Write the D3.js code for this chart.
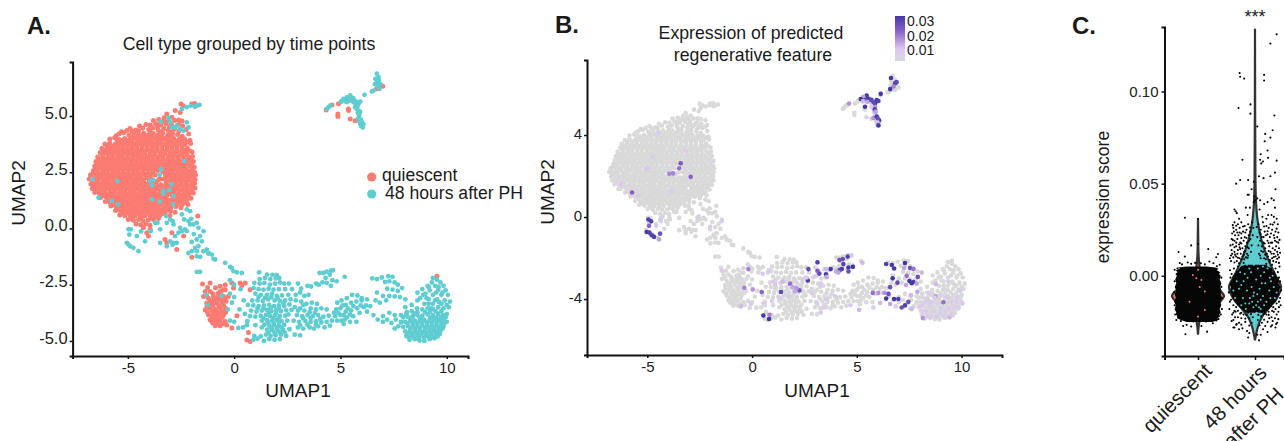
<html>
<head>
<meta charset="utf-8">
<script src="https://d3js.org/d3.v7.min.js"></script>
<style>
body { margin: 0; background: white; }
text { font-family: "Liberation Sans", Arial, sans-serif; fill: #1a1a1a; }
.axis path, .axis line { stroke: #111; }
</style>
</head>
<body>
<svg id="svg1" width="1284" height="441"></svg>
<script>
var cellsQuiescent = [
[-2.0,5.53],[-1.85,5.55],[-2.5,5.53],[-2.4,5.46],[-2.77,5.24],[-3.17,5.09],[-2.93,4.94],[-2.54,5.16],[-3.3,4.75],[-3.6,4.62],[-2.6,4.82],
[-4.15,4.62],[-3.95,4.6],[-3.7,4.66],[-3.45,4.6],[-3.2,4.64],[-2.95,4.62],[-2.62,4.62],[-4.45,4.55],[-3.8,4.8],[-3.55,4.84],[-3.3,4.92],[-3.1,4.78],[-2.8,4.8],[-2.45,4.78],[-3.6,4.5],[-3.05,4.52],[-2.42,4.55],[-4.62,4.38],[-4.8,4.32],[-5.05,4.35],[-5.3,4.3],[-5.55,4.12],[-4.9,4.44],[-4.5,4.34],
[-4.3,4.46],[-4.02,4.4],[-3.83,4.47],[-3.58,4.38],[-3.31,4.44],[-3.1,4.36],[-2.82,4.41],[-2.6,4.33],[-2.25,4.4],
[-5.42,4.2],[-5.2,4.26],[-4.95,4.16],[-4.72,4.24],[-4.5,4.19],[-4.26,4.23],[-4.03,4.16],[-3.8,4.22],[-3.57,4.17],[-3.36,4.24],[-3.12,4.16],[-2.9,4.21],[-2.66,4.18],[-2.44,4.1],[-2.14,4.2],
[-5.85,3.98],[-5.62,4.03],[-5.4,3.96],[-5.15,4.0],[-4.92,3.95],[-4.7,4.02],[-4.48,3.97],[-4.22,4.0],[-4.0,3.95],[-3.75,4.01],[-3.54,3.96],[-3.28,4.0],[-3.06,3.94],[-2.84,4.0],[-2.6,3.96],[-2.33,3.98],[-2.08,3.92],
[-6.08,3.76],[-5.85,3.8],[-5.6,3.74],[-5.38,3.79],[-5.16,3.76],[-4.9,3.8],[-4.68,3.73],[-4.44,3.78],[-4.2,3.75],[-3.98,3.8],[-3.74,3.74],[-3.5,3.78],[-3.26,3.73],[-3.04,3.79],[-2.8,3.76],[-2.56,3.8],[-2.32,3.74],[-2.05,3.78],
[-6.22,3.57],[-5.98,3.6],[-5.76,3.54],[-5.5,3.6],[-5.28,3.55],[-5.06,3.58],[-4.82,3.53],[-4.58,3.59],[-4.34,3.56],[-4.1,3.6],[-3.86,3.54],[-3.64,3.58],[-3.4,3.53],[-3.16,3.6],[-2.92,3.55],[-2.68,3.58],[-2.44,3.52],[-2.2,3.58],[-1.98,3.4],
[-6.3,3.38],[-6.06,3.42],[-5.84,3.35],[-5.6,3.4],[-5.36,3.36],[-5.14,3.4],[-4.9,3.34],[-4.66,3.39],[-4.42,3.36],[-4.2,3.41],[-3.95,3.35],[-3.72,3.38],[-3.48,3.33],[-3.26,3.4],[-3.0,3.35],[-2.78,3.38],[-2.54,3.32],[-2.28,3.38],
[-6.42,3.18],[-6.18,3.22],[-5.94,3.16],[-5.72,3.2],[-5.48,3.14],[-5.26,3.2],[-5.02,3.16],[-4.78,3.2],[-4.54,3.14],[-4.32,3.18],[-4.08,3.15],[-3.84,3.2],[-3.6,3.14],[-3.36,3.18],[-3.12,3.13],[-2.9,3.19],[-2.66,3.16],[-2.42,3.2],[-2.14,3.14],[-1.96,3.2],
[-6.5,2.98],[-6.26,3.02],[-6.04,2.96],[-5.8,3.0],[-5.56,2.95],[-5.34,3.0],[-5.1,2.94],[-4.86,3.0],[-4.62,2.96],[-4.4,3.0],[-4.16,2.94],[-3.92,2.98],[-3.68,2.94],[-3.46,3.0],[-3.2,2.95],[-2.98,2.99],[-2.74,2.94],[-2.5,2.98],[-2.2,2.94],[-1.92,2.98],
[-6.56,2.78],[-6.34,2.82],[-6.1,2.76],[-5.88,2.8],[-5.64,2.75],[-5.4,2.8],[-5.18,2.76],[-4.94,2.8],[-4.7,2.74],[-4.48,2.78],[-4.24,2.75],[-4.0,2.8],[-3.76,2.74],[-3.54,2.78],[-3.3,2.73],[-3.06,2.8],[-2.84,2.75],[-2.6,2.79],[-2.36,2.74],[-2.1,2.78],[-1.88,2.72],
[-6.62,2.58],[-6.4,2.62],[-6.16,2.56],[-5.94,2.6],[-5.7,2.54],[-5.46,2.6],[-5.24,2.56],[-5.0,2.6],[-4.76,2.54],[-4.54,2.58],[-4.3,2.55],[-4.06,2.6],[-3.82,2.54],[-3.6,2.58],[-3.36,2.53],[-3.12,2.6],[-2.9,2.55],[-2.66,2.59],[-2.42,2.54],[-2.18,2.58],[-1.86,2.5],
[-6.76,2.38],[-6.52,2.42],[-6.3,2.36],[-6.06,2.4],[-5.82,2.35],[-5.6,2.4],[-5.36,2.36],[-5.12,2.4],[-4.9,2.34],[-4.66,2.39],[-4.42,2.36],[-4.18,2.4],[-3.96,2.34],[-3.72,2.38],[-3.48,2.2],[-3.24,2.39],[-3.0,2.34],[-2.78,2.38],[-2.54,2.33],[-2.3,2.38],[-2.06,2.34],[-1.82,2.38],
[-6.82,2.2],[-6.6,2.16],[-6.36,2.22],[-6.12,2.17],[-5.9,2.2],[-5.66,2.15],[-5.42,2.2],[-5.2,2.16],[-4.96,2.2],[-4.72,2.14],[-4.5,2.18],[-4.26,2.15],[-4.02,2.2],[-3.78,2.02],[-3.56,2.16],[-3.3,2.2],[-3.08,2.14],[-2.84,2.19],[-2.6,2.15],[-2.36,2.2],[-2.12,2.14],[-1.84,2.18],
[-6.74,1.98],[-6.5,2.02],[-6.28,1.96],[-6.04,2.0],[-5.8,1.95],[-5.58,2.0],[-5.34,1.94],[-5.1,2.0],[-4.88,1.96],[-4.64,2.0],[-4.4,1.94],[-4.18,1.98],[-3.94,1.95],[-3.7,1.84],[-3.46,1.94],[-3.22,1.98],[-3.0,1.92],[-2.76,1.98],[-2.52,1.94],[-2.28,1.98],[-2.04,1.93],[-1.86,2.0],
[-6.68,1.78],[-6.44,1.82],[-6.2,1.76],[-5.98,1.8],[-5.74,1.75],[-5.5,1.8],[-5.28,1.76],[-5.04,1.8],[-4.8,1.74],[-4.58,1.78],[-4.34,1.75],[-4.1,1.8],[-3.88,1.74],[-3.64,1.78],[-3.4,1.73],[-3.18,1.8],[-2.94,1.75],[-2.7,1.78],[-2.46,1.73],[-2.22,1.78],[-1.98,1.73],[-1.84,1.8],
[-6.56,1.6],[-6.34,1.55],[-6.1,1.6],[-5.86,1.54],[-5.64,1.58],[-5.4,1.55],[-5.16,1.6],[-4.94,1.54],[-4.7,1.58],[-4.46,1.55],[-4.24,1.6],[-4.0,1.54],[-3.76,1.58],[-3.54,1.53],[-3.3,1.4],[-3.06,1.56],[-2.82,1.6],[-2.6,1.54],[-2.36,1.58],[-2.12,1.53],[-1.92,1.58],
[-6.28,1.38],[-6.04,1.42],[-5.82,1.36],[-5.58,1.4],[-5.34,1.34],[-5.12,1.4],[-4.88,1.36],[-4.64,1.4],[-4.42,1.34],[-4.18,1.38],[-3.94,1.35],[-3.7,1.4],[-3.48,1.34],[-3.24,1.38],[-3.0,1.24],[-2.78,1.38],[-2.54,1.34],[-2.3,1.38],[-2.03,1.34],
[-6.06,1.2],[-5.84,1.15],[-5.6,1.2],[-5.36,1.14],[-5.14,1.18],[-4.9,1.15],[-4.66,1.2],[-4.44,1.14],[-4.2,1.18],[-3.96,1.15],[-3.72,1.2],[-3.5,1.02],[-3.26,1.18],[-3.02,1.02],[-2.8,1.18],[-2.56,1.14],[-2.3,1.18],[-2.17,1.06],
[-5.8,1.0],[-5.56,0.96],[-5.34,1.0],[-5.1,0.94],[-4.86,0.98],[-4.62,0.95],[-4.4,1.0],[-4.16,0.94],[-3.92,0.98],[-3.68,0.95],[-3.46,0.8],[-3.22,0.96],[-2.98,0.92],[-2.74,0.98],[-2.5,0.92],
[-5.58,0.8],[-5.34,0.76],[-5.12,0.8],[-4.88,0.74],[-4.64,0.78],[-4.4,0.75],[-4.18,0.8],[-3.94,0.74],[-3.7,0.78],[-3.24,0.74],[-3.0,0.78],[-2.78,0.72],
[-5.38,0.6],[-5.14,0.56],[-4.9,0.6],[-4.68,0.54],[-4.44,0.58],[-4.2,0.55],[-3.96,0.6],[-3.74,0.54],[-3.5,0.58],[-3.26,0.68],[-3.02,0.58],
[-4.98,0.4],[-4.74,0.36],[-4.5,0.4],[-4.28,0.34],[-4.04,0.38],[-3.8,0.4],[-3.56,0.44],
[-4.62,0.2],[-4.4,0.16],[-4.16,0.2],[-3.96,0.14],
[-4.11,-0.19],[-4.03,-0.34],[-4.27,0.03],[-2.93,-0.19],[-2.38,-0.34],[-3.25,-0.49],[-3.17,-0.64],[-2.7,-0.94],[-1.99,-1.28],[-1.71,0.55],[-3.95,-0.04],
[4.33,5.27],[4.6,5.49],[4.91,5.54],[5.38,5.31],[5.38,5.24],[4.88,5.09],[4.88,4.98],[5.46,4.87],[5.69,4.79],[6.99,6.32],[6.71,6.21],
[-1.49,-2.47],[-1.13,-2.43],[-0.66,-2.57],[-0.42,-2.5],[-0.11,-2.43],[0.28,-2.43],[0.52,-2.43],[0.36,-2.54],[-0.03,-2.65],[-0.42,-2.72],[-0.66,-2.8],[-1.13,-2.8],[-1.36,-2.8],[-0.88,-2.64],
[-1.44,-3.02],[-1.21,-3.1],[-0.97,-3.02],[-0.74,-3.02],[-0.5,-3.02],[-0.27,-3.02],[-1.29,-3.32],[-1.05,-3.32],[-0.82,-3.32],[-0.58,-3.32],[-0.38,-3.24],
[-1.36,-3.62],[-1.13,-3.54],[-0.89,-3.59],[-0.66,-3.54],[-0.42,-3.54],[-1.21,-3.84],[-0.97,-3.79],[-0.74,-3.84],[-0.5,-3.84],[-1.13,-4.06],[-0.89,-4.03],[-0.66,-4.09],[-0.42,-4.14],
[-0.89,-4.33],[-0.66,-4.33],[-0.35,-4.29],[-0.11,-4.43],[0.13,-3.88],[0.75,-2.72],[0.67,-4.63],[0.6,-4.96],[0.75,-5.03],[9.54,-2.13],
[-1.0,-3.2],[-0.8,-3.7],[-1.05,-3.93],[-1.2,-3.45],[-0.6,-3.18],[-0.85,-4.18],[-0.55,-3.68],[-1.0,-4.2],
// second pass through the thick part of the blob
[-3.95,4.3],[-3.45,4.3],[-2.97,4.28],[-4.84,4.08],[-4.37,4.1],[-3.9,4.07],[-3.42,4.09],[-2.95,4.08],[-2.5,4.02],[-5.5,3.88],[-5.03,3.88],[-4.56,3.86],[-4.1,3.88],[-3.63,3.87],[-3.16,3.87],[-2.7,3.86],[-2.2,3.86],
[-5.95,3.68],[-5.48,3.68],[-5.02,3.67],[-4.56,3.67],[-4.08,3.68],[-3.62,3.66],[-3.14,3.67],[-2.68,3.68],[-2.44,3.66],[-6.12,3.48],[-5.65,3.48],[-5.2,3.46],[-4.74,3.47],[-4.3,3.47],[-3.84,3.46],[-3.38,3.46],[-2.9,3.46],[-2.44,3.44],[-2.1,3.46],
[-6.18,3.28],[-5.72,3.3],[-5.25,3.27],[-4.8,3.28],[-4.42,3.27],[-3.96,3.27],[-3.5,3.26],[-3.04,3.28],[-2.62,3.25],[-2.2,3.26],[-6.36,3.08],[-5.88,3.08],[-5.42,3.06],[-4.96,3.08],[-4.5,3.07],[-4.04,3.08],[-3.6,3.06],[-3.1,3.06],[-2.62,3.08],[-2.34,3.05],[-2.04,3.06],
[-6.42,2.88],[-5.98,2.88],[-5.52,2.87],[-5.06,2.88],[-4.58,2.87],[-4.12,2.88],[-3.64,2.86],[-3.18,2.87],[-2.86,2.86],[-2.42,2.85],[-2.0,2.86],[-6.5,2.68],[-6.04,2.68],[-5.58,2.66],[-5.1,2.68],[-4.64,2.67],[-4.18,2.68],[-3.72,2.66],[-3.24,2.67],[-2.78,2.67],[-2.3,2.66],[-1.98,2.62],
[-6.64,2.48],[-6.2,2.48],[-5.72,2.47],[-5.24,2.48],[-4.78,2.46],[-4.3,2.47],[-3.84,2.46],[-3.26,2.48],[-2.88,2.46],[-2.42,2.46],[-2.0,2.46],[-6.7,2.28],[-6.24,2.28],[-5.76,2.29],[-5.3,2.28],[-4.84,2.27],[-4.38,2.28],[-3.92,2.27],[-3.2,2.28],[-2.72,2.28],[-2.24,2.28],[-1.94,2.26],
[-6.66,2.08],[-6.16,2.08],[-5.7,2.06],[-5.26,2.08],[-4.78,2.06],[-4.32,2.08],[-3.66,2.08],[-3.18,2.07],[-2.72,2.07],[-2.24,2.06],[-1.95,2.08],[-6.6,1.88],[-6.12,1.88],[-5.66,1.86],[-5.2,1.88],[-4.74,1.87],[-4.28,1.87],[-3.82,1.86],[-3.34,1.87],[-2.86,1.86],[-2.4,1.86],[-1.94,1.86],
[-6.5,1.68],[-6.08,1.67],[-5.6,1.68],[-5.14,1.67],[-4.66,1.68],[-4.2,1.67],[-3.74,1.68],[-3.26,1.66],[-2.8,1.68],[-2.34,1.66],[-2.02,1.66],[-6.22,1.48],[-5.74,1.46],[-5.28,1.47],[-4.8,1.46],[-4.34,1.47],[-3.86,1.46],[-3.4,1.45],[-2.92,1.46],[-2.46,1.46],[-2.15,1.46],
[-5.94,1.28],[-5.48,1.28],[-5.02,1.27],[-4.54,1.28],[-4.08,1.27],[-3.6,1.27],[-3.12,1.28],[-2.68,1.27],[-2.22,1.26],[-5.7,1.08],[-5.24,1.07],[-4.76,1.08],[-4.3,1.07],[-3.84,1.08],[-3.38,1.1],[-2.9,1.08],[-2.44,1.06],
[-5.46,0.88],[-5.0,0.87],[-4.52,0.88],[-4.06,0.87],[-3.6,0.88],[-3.1,0.86],[-5.24,0.68],[-4.78,0.67],[-4.3,0.68],[-3.84,0.67],[-3.38,0.66],[-4.86,0.48],[-4.38,0.47],[-3.92,0.48],
[-1.25,-2.62],[-1.0,-2.9],[-0.75,-2.88],[-0.5,-2.72],[-1.3,-2.98],[-0.62,-2.92],[-1.15,-3.2],[-0.9,-3.12],[-0.7,-3.18],[-0.45,-3.12],[-1.28,-3.48],[-1.0,-3.44],[-0.72,-3.45],[-0.5,-3.42],[-1.25,-3.72],[-1.02,-3.68],[-0.84,-3.88],[-0.62,-3.76],[-0.4,-3.72],[-1.05,-4.14],[-0.78,-3.98],[-0.56,-3.96],[-0.77,-4.24],[-0.52,-4.24],
// third pass, leaves only small holes
[-4.6,4.06],[-4.14,4.1],[-3.66,4.07],[-3.18,4.06],[-5.27,3.9],[-4.8,3.86],[-4.33,3.89],[-3.87,3.86],[-3.4,3.9],[-2.93,3.87],[-2.45,3.88],[-5.72,3.66],[-5.25,3.7],[-4.79,3.66],[-4.32,3.68],[-3.85,3.64],[-3.38,3.69],[-2.91,3.66],
[-5.88,3.5],[-5.42,3.46],[-4.97,3.49],[-4.52,3.46],[-4.07,3.5],[-3.61,3.47],[-3.14,3.49],[-2.67,3.46],[-2.27,3.48],[-5.95,3.3],[-5.48,3.26],[-5.02,3.3],[-4.6,3.27],[-4.19,3.3],[-3.73,3.27],[-3.27,3.3],[-2.83,3.26],[-2.41,3.28],
[-6.12,3.1],[-5.65,3.06],[-5.19,3.09],[-4.73,3.06],[-4.27,3.1],[-3.82,3.07],[-3.35,3.08],[-2.86,3.06],[-6.2,2.9],[-5.75,2.86],[-5.29,2.89],[-4.82,2.86],[-4.35,2.89],[-3.88,2.87],[-3.41,2.9],[-3.02,2.86],[-2.64,2.88],[-2.21,2.86],
[-6.27,2.7],[-5.81,2.66],[-5.34,2.69],[-4.87,2.66],[-4.41,2.7],[-3.95,2.67],[-3.48,2.69],[-3.01,2.66],[-2.54,2.68],[-6.42,2.5],[-5.96,2.46],[-5.48,2.49],[-5.01,2.46],[-4.54,2.5],[-4.07,2.47],[-3.07,2.46],[-2.65,2.49],[-2.21,2.46],
[-6.47,2.3],[-6.0,2.26],[-5.53,2.29],[-5.07,2.26],[-4.61,2.3],[-4.15,2.27],[-2.96,2.28],[-2.48,2.26],[-6.41,2.1],[-5.93,2.06],[-5.48,2.09],[-5.02,2.06],[-4.55,2.1],[-4.0,2.07],[-2.95,2.09],[-2.48,2.06],
[-6.36,1.9],[-5.89,1.86],[-5.43,1.89],[-4.97,1.86],[-4.51,1.9],[-4.05,1.87],[-3.58,1.88],[-3.1,1.86],[-2.63,1.89],[-2.17,1.86],[-6.29,1.7],[-5.84,1.66],[-5.37,1.69],[-4.9,1.66],[-4.43,1.7],[-3.97,1.67],[-3.5,1.69],[-3.03,1.66],[-2.57,1.69],[-2.18,1.66],
[-5.98,1.5],[-5.51,1.46],[-5.04,1.49],[-4.57,1.46],[-4.1,1.5],[-3.63,1.47],[-3.16,1.49],[-2.69,1.46],[-2.3,1.48],[-5.71,1.3],[-5.25,1.26],[-4.78,1.29],[-4.31,1.26],[-3.84,1.3],[-3.36,1.27],[-2.9,1.29],[-2.45,1.26],
[-5.47,1.1],[-5.0,1.06],[-4.53,1.09],[-4.07,1.06],[-3.61,1.08],[-3.14,1.1],[-2.67,1.07],[-5.23,0.9],[-4.76,0.86],[-4.29,0.89],[-3.83,0.86],[-3.35,0.88],[-5.01,0.7],[-4.54,0.66],[-4.07,0.69],[-3.61,0.66]
];
var cellsAfterPH = [
[-6.67,2.19],[-5.49,2.1],[-6.38,1.37],[-5.76,1.22],[-5.45,1.07],[-3.95,2.11],[-3.8,2.15],[-3.86,1.92],[-3.44,2.63],[-3.51,2.38],[-2.94,1.96],[-3.33,1.67],[-3.05,1.71],[-3.33,1.55],[-2.86,1.44],[-3.87,1.29],[-3.51,1.19],[-2.86,1.07],[-2.34,3.0],
[-2.46,5.31],[-2.23,5.39],[-2.04,5.46],[-1.84,5.41],[-1.76,5.46],[-1.63,5.49],
[-3.44,4.75],[-3.09,4.9],[-3.0,4.72],[-2.93,4.49],[-2.7,4.57],[-2.54,4.42],[-2.23,4.72],[-2.15,4.49],[-2.38,4.34],[-2.77,4.49],
[-4.97,-0.04],[-4.86,-0.04],[-4.93,-0.27],[-5.05,-0.64],[-4.97,-0.71],[-4.89,-0.79],[-4.74,-0.86],[-4.5,-1.01],[-4.58,-0.34],[-4.38,-0.13],[-4.19,-0.57],[-3.92,-0.12],[-3.72,0.25],[-3.61,0.25],[-3.48,-0.04],[-3.2,0.55],[-3.17,0.25],[-3.01,0.4],[-2.89,0.33],[-2.85,0.18],[-3.48,-0.64],[-3.17,-0.79],[-3.01,-0.57],[-2.85,-0.64],[-2.7,-0.64],[-2.78,-0.34],[-2.62,-0.19],[-2.46,-0.12],[-2.31,-0.04],[-2.23,-0.12],[-2.54,0.03],[-2.35,0.4],[-2.15,0.33],[-2.02,0.43],[-2.07,0.18],[-1.91,0.18],[-1.76,0.25],[-1.68,0.03],[-1.44,-0.12],[-1.6,-0.34],[-1.76,-0.49],[-1.52,-0.57],[-1.68,-0.79],[-1.84,-0.86],[-1.99,-1.01],[-2.15,-1.09],[-1.29,-0.94],[-1.21,-1.09],[-1.05,-1.16],[-0.89,-1.38],[-2.23,0.85],[-2.07,0.77],[-2.46,0.63],[-1.76,-1.24],[-1.6,-1.26],[-2.9,-0.72],[-1.9,-0.25],[-2.0,-0.6],
[6.71,6.88],[6.79,6.73],[6.64,6.65],[6.71,6.5],[6.87,6.43],[6.79,6.28],[6.84,6.21],[6.56,6.13],[6.48,6.09],[6.13,5.94],[5.46,5.91],[5.3,5.83],[5.15,5.76],[5.07,5.68],[5.22,5.68],[5.54,5.68],[5.38,5.76],[5.62,5.61],[5.93,5.64],[5.85,5.54],[5.69,5.39],[5.85,5.24],[5.77,5.31],[5.88,5.01],[5.85,4.79],[6.01,4.72],[5.93,4.64],[6.05,4.49],[6.01,4.57],[4.52,5.46],[4.44,5.39],[4.36,5.31],
[6.72,6.6],[6.8,6.58],[6.74,6.36],[6.62,6.42],[5.35,5.66],[5.45,5.74],[5.6,5.79],[5.7,5.66],[5.8,5.6],[5.72,5.5],[5.8,5.42],[5.82,5.14],[5.92,5.18],[5.84,4.9],[5.96,4.84],[6.08,4.64],[5.97,4.55],[5.02,5.62],[5.48,5.8],[5.28,5.62],
[-0.42,-1.53],[-0.19,-1.71],[-0.11,-1.76],[-0.03,-1.9],[0.13,-1.95],[0.36,-1.98],[-1.76,-1.93],[-1.6,-1.93],[-0.97,-1.35],[-1.21,-1.12],[-1.44,-1.01],[-1.76,-1.01],
[-0.2,-2.3],[0.0,-2.5],[-0.6,-3.0],[-1.3,-2.95],[-0.2,-2.9],[-0.1,-3.3],[-1.25,-3.4],[-0.3,-3.6],[0.0,-3.05],[0.3,-2.7],[0.45,-3.2],[0.25,-3.6],[0.5,-3.8],[-0.2,-4.1],[0.0,-4.15],[0.2,-4.42],[0.42,-4.4],[0.6,-4.3],
[1.18,-1.95],[1.55,-2.05],[1.8,-2.06],[2.0,-2.08],[1.2,-2.25],[1.45,-2.2],[1.7,-2.25],[1.95,-2.22],[2.12,-2.2],[0.95,-2.42],[1.2,-2.45],[1.42,-2.42],[1.68,-2.5],[1.92,-2.45],[2.15,-2.4],[2.35,-2.45],[2.58,-2.45],[0.92,-2.65],[1.15,-2.7],[1.38,-2.72],[1.62,-2.68],[1.85,-2.72],[2.1,-2.7],[2.4,-2.7],[1.0,-2.9],[1.25,-2.95],[1.55,-2.95],[1.78,-2.9],[2.0,-3.0],[2.25,-2.98],[2.55,-2.95],[2.72,-2.7],
[1.1,-3.2],[1.35,-3.22],[1.6,-3.15],[1.9,-3.2],[2.15,-3.22],[2.4,-3.2],[2.65,-3.15],[0.65,-3.4],[0.9,-3.42],[1.15,-3.45],[1.4,-3.42],[1.65,-3.4],[1.88,-3.45],[2.1,-3.42],[2.35,-3.45],[2.6,-3.38],[0.8,-3.65],[1.05,-3.7],[1.3,-3.65],[1.55,-3.62],[1.75,-3.68],[1.98,-3.62],[2.2,-3.68],[2.45,-3.64],[2.7,-3.62],
[0.75,-3.9],[1.0,-3.92],[1.25,-3.88],[1.5,-3.84],[1.7,-3.9],[1.92,-3.85],[2.15,-3.9],[2.4,-3.88],[0.62,-4.12],[1.3,-4.1],[1.55,-4.08],[1.78,-4.1],[2.0,-4.06],[2.22,-4.12],[2.5,-4.1],[1.0,-4.3],[1.42,-4.28],[1.65,-4.32],[1.88,-4.3],[2.1,-4.32],[2.35,-4.28],[1.55,-4.5],[1.8,-4.52],[2.05,-4.55],[2.3,-4.5],[2.6,-4.48],[0.95,-4.78],[1.25,-4.8],[1.5,-4.72],[1.72,-4.78],[1.95,-4.75],[2.2,-4.72],[2.45,-4.78],[2.85,-4.72],[3.1,-4.75],[1.1,-4.9],[1.4,-5.0],[1.65,-4.92],[1.9,-4.95],[2.15,-4.92],[0.9,-4.95],
[1.72,-3.52],[1.98,-3.76],[2.1,-3.55],[1.85,-3.98],[2.1,-3.98],[1.62,-3.78],[1.38,-3.98],[1.6,-4.2],[1.85,-4.2],[2.1,-4.18],[1.3,-4.4],[1.75,-4.42],[2.0,-4.42],[2.22,-4.4],[1.62,-4.62],[1.9,-4.64],[2.15,-4.62],[2.38,-4.62],[1.1,-3.55],[1.38,-3.55],[2.32,-3.32],[2.55,-3.82],
[3.0,-2.45],[3.15,-2.68],[3.45,-2.55],[3.62,-2.58],[3.85,-2.45],[3.98,-2.5],[2.9,-2.95],[3.1,-2.85],[3.3,-3.0],[3.5,-2.95],[2.9,-3.2],[3.15,-3.25],[3.4,-3.35],[3.65,-3.3],[3.9,-3.35],[2.85,-3.5],[3.1,-3.55],[3.3,-3.65],[3.6,-3.55],[3.85,-3.6],[4.1,-3.55],[4.35,-3.6],[2.95,-3.85],[3.2,-3.9],[3.45,-3.85],[3.7,-3.9],[3.95,-3.85],[4.2,-3.92],[4.45,-3.88],[4.7,-3.75],[2.8,-4.1],[3.05,-4.15],[3.35,-4.12],[3.6,-4.15],[3.85,-4.12],[4.1,-4.18],[4.35,-4.15],[4.6,-4.1],[3.0,-4.4],[3.25,-4.45],[3.55,-4.4],[3.75,-4.45],[3.95,-4.35],[4.25,-4.4],[4.5,-4.32],
[4.02,-1.98],[4.2,-1.98],[4.35,-1.92],[4.55,-1.88],[4.65,-1.85],[4.3,-2.2],[4.62,-2.3],[4.15,-2.4],[4.35,-2.42],[4.55,-2.55],[4.5,-2.05],[4.82,-2.35],[5.2,-2.15],
[4.85,-3.3],[5.05,-3.2],[5.3,-3.1],[5.55,-2.95],[5.8,-2.98],[6.0,-3.2],[4.8,-3.6],[5.0,-3.55],[5.25,-3.4],[5.5,-3.3],[5.75,-3.25],[6.0,-3.1],[6.25,-3.15],[4.75,-3.9],[5.0,-3.85],[5.25,-3.7],[5.5,-3.65],[5.78,-3.55],[6.1,-3.5],[6.4,-3.45],[6.65,-3.2],[4.85,-4.1],[5.05,-4.1],[5.3,-3.95],[5.6,-3.9],[5.9,-3.75],[6.25,-3.7],[6.55,-3.85],[5.15,-4.25],[5.45,-4.15],[5.2,-4.05],[5.75,-4.15],
[6.5,-2.22],[6.72,-2.25],[6.95,-2.18],[7.25,-2.12],[7.45,-2.15],[7.1,-2.38],[7.3,-2.35],[7.55,-2.4],[7.7,-2.5],[7.9,-2.65],[7.2,-2.68],[7.45,-2.72],[7.7,-2.78],[6.72,-2.85],[7.0,-3.0],[7.3,-3.0],[7.55,-3.02],[7.8,-3.05],[8.05,-3.15],[6.85,-3.3],[7.15,-3.2],
[7.0,-3.9],[7.3,-3.75],[7.55,-3.85],[6.75,-4.05],[7.0,-4.15],[7.2,-4.05],[7.4,-4.2],[7.55,-4.45],[7.72,-4.35],[7.6,-4.05],[7.85,-4.15],[7.85,-3.85],
[8.12,-3.72],[8.35,-3.68],[8.6,-3.55],[8.85,-3.6],[9.1,-3.55],[9.35,-3.58],[9.6,-3.5],[9.85,-3.55],[10.1,-3.5],
[7.95,-3.95],[8.15,-3.92],[8.4,-3.9],[8.62,-3.85],[8.85,-3.88],[9.1,-3.82],[9.35,-3.85],[9.6,-3.8],[9.82,-3.85],[10.0,-3.8],
[7.85,-4.18],[8.05,-4.15],[8.28,-4.12],[8.5,-4.1],[8.72,-4.12],[8.95,-4.08],[9.18,-4.1],[9.4,-4.05],[9.62,-4.08],[9.85,-4.05],
[7.95,-4.38],[8.18,-4.35],[8.4,-4.32],[8.62,-4.35],[8.85,-4.3],[9.08,-4.33],[9.3,-4.28],[9.52,-4.3],[9.75,-4.28],[9.9,-4.2],
[8.05,-4.58],[8.28,-4.55],[8.5,-4.58],[8.72,-4.52],[8.95,-4.55],[9.18,-4.5],[9.4,-4.53],[9.62,-4.5],[9.8,-4.45],
[8.1,-4.78],[8.35,-4.75],[8.58,-4.78],[8.8,-4.72],[9.02,-4.75],[9.25,-4.72],[9.48,-4.72],[9.68,-4.68],
[8.25,-4.95],[8.5,-4.92],[8.72,-4.98],[8.95,-5.0],[9.2,-4.92],[9.42,-4.88],
[8.5,-3.78],[8.98,-3.72],[9.48,-3.68],[9.75,-3.68],[8.28,-4.0],[8.75,-3.98],[9.22,-3.96],[9.72,-3.95],[8.15,-4.25],[8.62,-4.22],[9.08,-4.2],[9.52,-4.18],[8.3,-4.45],[8.75,-4.42],[9.2,-4.42],[9.64,-4.4],[8.16,-4.66],[8.62,-4.67],[9.06,-4.64],[9.5,-4.62],[8.45,-4.85],[8.92,-4.85],[9.35,-4.82],[8.1,-3.82],[9.95,-3.95],[10.0,-4.15],
[8.38,-4.02],[8.86,-4.0],[9.32,-3.98],[9.5,-3.95],[8.4,-4.22],[8.85,-4.2],[9.3,-4.18],[9.74,-4.16],[8.52,-4.44],[8.98,-4.42],[9.42,-4.42],[9.85,-4.36],[8.4,-4.66],[8.85,-4.63],[9.28,-4.62],[9.7,-4.56],[8.22,-4.85],[8.68,-4.86],[9.14,-4.83],[9.58,-4.8],[8.62,-3.72],[9.22,-3.7],[8.72,-3.95],
[8.05,-3.5],[8.35,-3.4],[8.62,-3.2],[9.05,-3.1],[9.25,-3.55],[9.45,-3.2],[9.65,-3.28],[8.9,-2.95],[9.15,-2.6],[9.35,-2.2],[9.62,-2.6],[9.8,-2.85],[9.5,-2.85],[9.15,-3.35],
[9.54,-2.28],[9.3,-2.4],[9.7,-2.4],[9.1,-2.55],[9.45,-2.55],[9.85,-2.55],[8.85,-2.7],[9.2,-2.75],[9.6,-2.72],[9.95,-2.75],[8.62,-2.85],[9.0,-2.9],[9.35,-2.95],[9.75,-2.95],[10.05,-2.95],[8.75,-3.1],[9.15,-3.15],[9.55,-3.15],[9.9,-3.2],[10.15,-3.25],[8.95,-3.35],[9.35,-3.35],[9.75,-3.35],[10.0,-3.4],
[4.9,-3.75],[5.15,-3.85],[5.35,-3.55],[5.6,-3.45],[5.1,-3.42],[5.45,-3.82],[5.95,-3.42],[6.2,-3.42],[3.0,-3.65],[3.25,-3.4],[3.55,-3.72],[3.8,-3.75],[3.25,-4.0],[3.6,-3.98],[3.1,-4.3],[3.45,-4.28],[3.85,-4.28],[4.05,-4.02],[1.15,-3.05],[1.45,-3.08],[1.75,-3.05],[2.05,-3.1],[0.85,-3.2]
];
// purple cells, [umap1, umap2, expression]
var cellsExpression = [
[6.63,6.78,.03],[6.83,6.53,.028],[6.9,6.58,.026],[6.75,6.37,.016],[6.59,6.24,.03],[6.14,6.01,.03],[5.47,5.92,.03],[5.55,5.76,.03],[5.31,5.87,.012],[5.19,5.76,.03],[5.39,5.71,.028],[5.95,5.71,.03],[5.87,5.54,.03],[6.03,5.66,.028],[5.71,5.63,.008],[5.39,5.38,.03],[5.76,5.33,.008],[5.87,5.38,.014],[5.87,5.05,.008],[5.79,4.83,.014],[6.06,4.72,.03],[5.98,4.64,.009],[6.03,4.47,.03],[4.63,5.54,.014],
[5.62,5.72,.028],[5.5,5.62,.012],[5.8,5.6,.026],[5.86,5.24,.03],[5.95,4.9,.03],[6.0,4.82,.024],[5.3,5.66,.01],[5.9,5.14,.012],[5.7,5.72,.026],
[-3.41,2.62,.022],[-3.48,2.38,.018],[-3.95,2.11,.016],[-3.77,2.13,.016],[-2.93,1.96,.02],[-5.73,1.2,.02],[-3.83,1.25,.008],[-5.43,1.04,.008],[-6.25,1.58,.008],[-5.03,2.36,.008],[-4.47,4.11,.006],[-4.74,2.94,.006],[-3.17,3.23,.006],[-4.95,2.41,.006],[-1.85,2.74,.004],
[-4.95,-0.12,.028],[-4.82,-0.21,.028],[-4.92,-0.43,.02],[-5.03,-0.73,.03],[-4.9,-0.76,.028],[-4.79,-0.89,.028],[-4.68,-0.97,.028],[-4.39,-0.81,.024],[-4.44,-1.09,.012],[-4.58,-0.43,.008],[-4.34,-0.02,.006],[-4.36,-0.2,.006],[-2.0,-0.48,.006],[-1.45,-0.2,.006],[-2.61,-0.02,.005],
[3.12,-2.21,.028],[4.17,-2.1,.024],[4.33,-2.05,.024],[4.57,-1.93,.028],[4.76,-1.88,.008],[4.36,-2.29,.028],[4.6,-2.46,.03],[4.81,-2.43,.03],[4.28,-2.54,.03],[4.17,-2.59,.026],[4.01,-2.66,.012],[3.75,-2.54,.03],[3.53,-2.79,.03],[3.21,-2.76,.026],[3.12,-2.62,.022],[2.69,-2.54,.026],[2.66,-3.09,.028],[4.6,-2.66,.024],[4.12,-2.71,.012],[3.53,-2.54,.01],[3.56,-2.92,.012],[5.27,-2.23,.01],[-0.18,-2.54,.016],[-1.45,-2.62,.008],
[-0.37,-3.45,.016],[0.03,-3.53,.014],[0.46,-3.66,.02],[1.38,-3.66,.026],[2.26,-3.58,.022],[2.13,-3.48,.014],[1.81,-3.25,.018],[1.46,-3.15,.01],[0.54,-4.8,.03],[0.81,-4.97,.03],[0.83,-4.77,.016],[-0.53,-4.36,.01],[-0.06,-4.24,.008],[0.51,-2.77,.008],[1.1,-3.32,.008],[3.28,-4.65,.008],[3.09,-4.19,.006],[3.28,-3.25,.008],[3.4,-4.41,.008],[5.11,-4.52,.01],
[0.8,-2.6,.008],[1.0,-3.15,.007],[0.55,-4.2,.007],[0.95,-4.1,.006],[1.3,-3.95,.007],[1.95,-3.42,.012],[2.05,-3.62,.012],[2.4,-3.05,.006],[1.75,-3.85,.006],[2.6,-2.95,.007],[3.0,-2.9,.008],[2.85,-3.7,.006],[3.5,-4.0,.005],[4.0,-3.9,.006],[4.7,-4.3,.007],
[6.4,-2.29,.028],[6.67,-2.34,.03],[6.78,-2.51,.03],[7.3,-2.24,.03],[7.54,-2.49,.024],[7.26,-2.49,.012],[7.7,-2.54,.018],[8.1,-2.71,.01],[7.38,-2.87,.018],[7.91,-2.92,.024],[6.71,-2.99,.03],[6.94,-3.2,.026],[7.51,-3.12,.03],[7.7,-3.17,.028],[7.62,-3.23,.03],[7.86,-3.25,.012],[6.59,-3.42,.024],[7.35,-3.32,.012],
[5.76,-3.7,.018],[6.03,-3.7,.014],[6.32,-3.7,.014],[6.51,-3.75,.024],[6.4,-3.98,.03],[6.78,-4.0,.03],[6.98,-4.0,.028],[6.59,-4.24,.012],[6.11,-4.19,.01],[5.79,-4.41,.008],[6.86,-4.36,.008],[7.14,-4.41,.024],[7.3,-4.31,.028],[7.46,-4.14,.024],[7.62,-4.49,.01],[7.59,-3.81,.01],[7.89,-3.65,.012],[8.77,-3.28,.01],[8.77,-3.86,.012],[9.13,-4.16,.018],[8.15,-4.93,.014],[8.42,-4.85,.008],[9.42,-4.9,.01],[9.77,-3.94,.006],[10.04,-4.22,.008],[9.37,-3.15,.005],[8.34,-4.03,.008],[8.02,-4.36,.008],[8.66,-4.6,.006],[8.97,-4.69,.006],[9.61,-4.36,.006],[9.21,-4.6,.006],[8.89,-4.19,.006],[8.5,-4.36,.005],
[8.2,-4.2,.006],[8.55,-4.15,.007],[8.7,-3.95,.006],[8.95,-3.9,.005],[9.3,-3.9,.007],[9.5,-4.15,.006],[9.75,-4.15,.006],[9.4,-4.45,.007],[9.0,-4.45,.007],[8.3,-4.62,.007],[8.8,-4.85,.007],[9.15,-4.85,.006],[9.55,-4.72,.007],[8.1,-4.58,.006],[9.85,-4.45,.005],[8.55,-4.85,.006],[9.95,-3.6,.005],[8.45,-3.7,.006]
];

var colorStops = [0, 0.008, 0.02, 0.03];
var colorValues = ["#d9d9d9", "#dbc8f0", "#8b60c8", "#4338a8"];
var legendTicks = [0.01, 0.02, 0.03];

var groups = ["quiescent", "48 hours after PH"];
var groupColors = ["#fb7b72", "#5ecdd1"];
var ticksUmap1 = [-5, 0, 5, 10];
var ticksUmap2A = [-5, -2.5, 0, 2.5, 5];
var ticksUmap2B = [-4, 0, 4];
var ticksScore = [0, 0.05, 0.1];

// violin outlines, [score, relative width]
var violinQuiescent = [[.031,0],[.02,.01],[.012,.02],[.005,.06],[0,.13],[-.004,.4],[-.008,.85],[-.011,1],[-.014,.85],[-.018,.45],[-.022,.12],[-.026,.04],[-.032,0]];
var violinAfterPH = [[.134,0],[.1,.004],[.08,.008],[.06,.015],[.05,.02],[.04,.04],[.03,.1],[.02,.24],[.012,.42],[.006,.6],[0,.8],[-.006,1],[-.012,.85],[-.018,.5],[-.022,.28],[-.026,.15],[-.03,.07],[-.035,0]];
// where the jitter is so thick it reads as solid black, [score, left, right]
var cloudQuiescent = [[.005,-.2,.15],[.0045,-.36,.3],[.004,-.31,.36],[.003,-.39,.33],[.002,-.36,.39],[.001,-.4,.37],[0,-.37,.4],[-.002,-.4,.38],[-.004,-.38,.41],[-.006,-.41,.39],[-.008,-.38,.41],[-.01,-.41,.4],[-.012,-.39,.42],[-.014,-.42,.39],[-.016,-.39,.41],[-.018,-.41,.38],[-.02,-.38,.4],[-.021,-.39,.37],[-.022,-.36,.39],[-.023,-.37,.34],[-.024,-.3,.36],[-.025,-.2,.25]];
var cloudAfterPH = [[.006,-.18,.2],[.005,-.25,.22],[.004,-.27,.3],[.002,-.34,.31],[.001,-.33,.37],[0,-.39,.36],[-.002,-.4,.42],[-.004,-.44,.41],[-.006,-.42,.45],[-.008,-.44,.42],[-.01,-.41,.43],[-.012,-.4,.38],[-.014,-.35,.37],[-.016,-.31,.29],[-.018,-.23,.25],[-.02,-.15,.16]];
// single jitter points, [offset, score]
var jitterQuiescent = [[-.23,.0315],[0,.031],[-.12,.0165],[0,.0174],[.18,.0145],[-.34,.0129],[-.23,.0105],[.35,.0118],[.32,.0101],[.2,.0078],[-.41,.0033],[-.32,.0069],[.38,.006],[-.2,-.0266],[-.12,-.0275],[-.22,-.0317],[.16,-.0303],[.26,-.0257],[.36,-.0234],[-.35,-.0221],[-.26,-.0272],[.06,-.0272],
[-.36,.004],[-.28,.0062],[-.18,.0072],[-.12,.0065],[-.05,.007],[.05,.0068],[.12,.0062],[.27,.0068],[.33,.0052],[-.38,-.024],[-.3,-.0245],[-.2,-.024],[-.08,-.0248],[.03,-.0245],[.14,-.0248],[.25,-.0242],[.32,-.0242],[.42,-.012],[.41,-.006],[.42,-.018],[-.41,-.003],[-.42,-.009],[-.41,-.016],[-.4,-.021],[.41,-.001],[.4,-.021]];
var jitterAfterPH = [[.38,.131],[.27,.126],[-.27,.110],[-.26,.108],[-.19,.107],[.16,.109],[.16,.106],[-.29,.091],[-.08,.093],[-.08,.088],[.34,.087],[.04,.081],[.31,.079],[.18,.077],[.27,.075],[.17,.073],[.22,.068],[.1,.066],[.23,.064],[-.22,.063],[.09,.063],[.14,.062],[.11,.061],[.38,.0625],[.35,.056],[.27,.054],[.07,.054],[.15,.053],[-.26,.052],[-.12,.052],[-.33,.05],[-.02,.051],[-.06,.047],[.36,.047],[-.13,.044],[-.11,.044],[-.01,.043],[0,.041],[.04,.042],[.09,.041],[-.02,.04],[.22,.04],[.29,.042],[.33,.041],[.16,.039],[-.36,.036],[-.34,.035],[-.32,.034],[-.16,.037],[-.09,.037],[.08,.036],[.35,.037],[-.13,.033],[-.28,.031],[.13,.032],[.23,.033],[.29,.033],[.2,.031],[.33,.032],[.38,.031],
[-.36,.029],[-.3,.028],[-.24,.029],[-.18,.027],[-.12,.028],[-.05,.029],[.06,.028],[.14,.029],[.2,.027],[.27,.028],[.34,.029],[.4,.028],
[-.38,.026],[-.33,.025],[-.27,.026],[-.21,.024],[-.15,.025],[-.08,.024],[.1,.025],[.17,.024],[.24,.026],[.3,.025],[.36,.024],
[-.4,.023],[-.35,.022],[-.29,.022],[-.24,.023],[-.18,.021],[-.11,.022],[.12,.021],[.19,.022],[.26,.021],[.33,.022],[.39,.021],
[-.41,.02],[-.36,.019],[-.31,.02],[-.26,.018],[-.2,.019],[-.14,.018],[-.08,.02],[.09,.019],[.15,.018],[.22,.019],[.28,.018],[.35,.019],[.41,.018],
[-.39,.017],[-.33,.016],[-.28,.017],[-.22,.015],[-.17,.016],[-.11,.015],[.12,.016],[.18,.015],[.25,.016],[.31,.015],[.37,.016],[.42,.015],
[-.41,.014],[-.36,.013],[-.3,.014],[-.25,.012],[-.19,.013],[-.14,.012],[-.07,.013],[.07,.012],[.14,.013],[.21,.012],[.27,.013],[.33,.012],[.39,.013],
[-.42,.011],[-.38,.01],[-.33,.0105],[-.27,.0095],[-.22,.0105],[-.16,.01],[.16,.0095],[.23,.0105],[.3,.0095],[.36,.0105],[.42,.01],
[-.4,-.021],[-.3,-.0225],[-.2,-.021],[-.1,-.023],[.11,-.022],[.2,-.021],[.29,-.0225],[.38,-.021],
[-.38,-.024],[-.28,-.0255],[-.17,-.025],[-.1,-.027],[.12,-.0255],[.22,-.025],[.31,-.0245],[.39,-.0255],
[-.36,-.028],[-.33,-.0265],[-.22,-.0285],[-.14,-.03],[.14,-.029],[.28,-.0275],[.36,-.028],
[-.12,-.0335],[.07,-.035],[.04,-.032],[.42,-.017],[.44,-.012],[-.44,-.014],[-.43,-.005],[.44,-.003],
// second pass, the thicker upper and lower shoulders
[-.39,.0275],[-.33,.0272],[-.27,.0235],[-.21,.0268],[-.15,.0205],[-.09,.0262],[-.03,.026],[.03,.0265],[.1,.0225],[.16,.0268],[.22,.0242],[.31,.0278],[.38,.0256],
[-.37,.024],[-.31,.0235],[-.24,.0205],[-.17,.0235],[-.1,.019],[-.04,.022],[.04,.021],[.08,.0235],[.15,.021],[.22,.0225],[.28,.023],[.34,.0205],[.41,.0235],
[-.39,.0195],[-.33,.018],[-.27,.0155],[-.24,.0175],[-.17,.0135],[-.13,.0155],[-.06,.0165],[.06,.0165],[.11,.0135],[.17,.0175],[.24,.0178],[.3,.018],[.38,.0185],[.43,.0195],
[-.43,.0165],[-.36,.0155],[-.31,.012],[-.26,.0145],[-.2,.0115],[-.12,.011],[.09,.011],[.18,.0115],[.24,.0135],[.29,.012],[.35,.014],[.4,.0115],[.44,.0125],
[-.44,.0095],[-.4,.012],[-.35,.0115],[-.3,.0098],[-.24,.0088],[-.19,.009],[-.13,.0098],[.1,.0095],[.19,.009],[.26,.0085],[.33,.0102],[.39,.0092],
[-.38,-.02],[-.34,-.0195],[-.26,-.0205],[-.15,-.0212],[-.07,-.0208],[.06,-.0212],[.15,-.0208],[.24,-.0212],[.33,-.0195],[.41,-.0195],
[-.35,-.0225],[-.24,-.023],[-.17,-.0232],[-.04,-.0225],[.05,-.024],[.16,-.0238],[.25,-.023],[.35,-.023],[.41,-.0235],
[-.41,-.0245],[-.32,-.0262],[-.24,-.0265],[-.06,-.0255],[.08,-.0268],[.18,-.0272],[.3,-.0268],[.37,-.0262],[-.38,-.028],[-.28,-.029],[-.1,-.031],[.1,-.032],[.22,-.0305],
[.46,-.008],[-.46,-.009],[.45,-.016],[-.45,-.018],[.43,.005],[-.44,.003],[-.42,.008],[.42,.007],
// corners around the solid part
[.3,.006],[.36,.004],[.4,.002],[.33,.002],[.42,-.001],[.37,.0075],[-.3,.005],[-.37,.004],[-.41,.001],[-.34,.001],[-.43,-.001],[-.36,.0072],[.32,-.017],[.38,-.015],[.3,-.019],[.36,-.018],[.42,-.014],[-.33,-.017],[-.38,-.016],[-.3,-.019],[-.36,-.019],[-.42,-.013],
[.25,.004],[-.25,.004],[.2,.0065],[-.2,.007],[.26,.0075],[-.28,.0068],[.32,.008],[-.32,.008],[.24,-.0195],[-.24,-.02],[.12,-.0195],[-.12,-.02],[.18,-.02],[-.18,-.0185],[.28,-.0165],[-.28,-.016]];
// spots of the violin that show between the black points
var gapsQuiescent = [[0,.0033],[-.03,-.0013],[.06,-.0022],[.12,-.0085],[.12,-.0185],[0,-.0221],[-.09,.0005],[-.15,-.014],[.03,-.006]];
var gapsAfterPH = [[-.02,.006],[.05,.004],[-.07,.002],[.1,.0],[-.13,-.001],[.02,-.002],[.18,-.004],[-.2,-.003],[-.06,-.006],[.08,-.007],[-.14,-.008],[.25,-.008],[.14,-.011],[-.28,-.007],[.33,-.006],[-.03,-.011],[-.21,-.012],[.05,-.014],[.2,-.014],[-.1,-.015],[-.03,-.017],[.1,-.018],[-.16,-.018],[.03,-.02],[.35,-.012],[-.35,-.012],[.26,-.001],[-.26,.002],[.14,.005],[-.14,.006],
[.02,.008],[-.05,.0075],[.08,.0065],[-.1,.004],[.16,.002],[.22,.004],[-.18,.001],[-.24,-.005],[.28,-.003],[.12,-.004],[-.02,-.009],[.04,-.01],[-.09,-.012],[.1,-.013],[-.17,-.015],[.16,-.016],[-.05,-.014],[.02,-.016],[-.24,-.016],[.27,-.012],[.38,-.009],[-.32,-.003],[-.38,-.008],[.31,.0],[.07,-.017]];

var categories = ["quiescent", "48 hours"];
var svg = d3.select("#svg1");

function hyphen(f) {
	return function(d) { return f(d).replace("\u2212", "-"); };
}
function styleAxis(g) {
	g.select(".domain").attr("stroke-width", 2);
	g.selectAll(".tick line").attr("stroke-width", 1.5);
	g.selectAll(".tick text").attr("font-size", "15px").style("fill", "#222");
}
function drawAxes(x, y, xTicks, yTicks, xPos, yPos, yFormat, yShift, yFont) {
	svg.append("g").attr("class", "axis").attr("transform", "translate(0," + yPos + ")")
		.call(d3.axisBottom(x).tickValues(xTicks).tickSize(3).tickFormat(hyphen(d3.format("d"))))
		.call(styleAxis);
	svg.append("g").attr("class", "axis").attr("transform", "translate(" + xPos + ",0)")
		.call(d3.axisLeft(y).tickValues(yTicks).tickSize(3).tickPadding(2).tickFormat(hyphen(yFormat)))
		.call(styleAxis)
		.selectAll(".tick text").attr("y", yShift).attr("font-size", yFont + "px");
}
function label(x, y, str, size, opts) {
	opts = opts || {};
	return svg.append("text")
		.attr("transform", "translate(" + x + "," + y + ")" + (opts.rotate ? " rotate(" + opts.rotate + ")" : ""))
		.attr("text-anchor", opts.anchor || "middle")
		.attr("font-size", size + "px")
		.attr("font-weight", opts.bold ? "bold" : "normal")
		.text(str);
}

// ---- panel A
var xA = d3.scaleLinear().domain([-7.6, 11.0]).range([72.6, 468]);
var yA = d3.scaleLinear().domain([-5.67, 7.4]).range([356, 62]);
drawAxes(xA, yA, ticksUmap1, ticksUmap2A, 72.6, 356, d3.format(".1f"), -3, 16.5);

var gA = svg.append("g");
gA.selectAll(".q").data(cellsQuiescent).enter().append("circle").attr("class", "q")
	.attr("cx", function(d) { return xA(d[0]); })
	.attr("cy", function(d) { return yA(d[1]); })
	.attr("r", 2.5).style("fill", groupColors[0]);
gA.selectAll(".a").data(cellsAfterPH).enter().append("circle").attr("class", "a")
	.attr("cx", function(d) { return xA(d[0]); })
	.attr("cy", function(d) { return yA(d[1]); })
	.attr("r", 2.4).style("fill", groupColors[1]);

svg.append("circle").attr("cx", 371.7).attr("cy", 177).attr("r", 4.6).style("fill", groupColors[0]);
svg.append("circle").attr("cx", 371.7).attr("cy", 194).attr("r", 4.6).style("fill", groupColors[1]);
label(382, 181, groups[0], 17.6, {anchor: "start"});
label(385, 199, groups[1], 17.6, {anchor: "start"});

label(27, 34, "A.", 24, {anchor: "start", bold: true});
label(249, 50, "Cell type grouped by time points", 17.7);
label(298, 397, "UMAP1", 19);
label(25, 193, "UMAP2", 19, {rotate: -90});

// ---- panel B
var xB = d3.scaleLinear().domain([-7.88, 11.93]).range([587, 1002]);
var yB = d3.scaleLinear().domain([-6.73, 7.66]).range([355, 60]);
drawAxes(xB, yB, ticksUmap1, ticksUmap2B, 587, 355, d3.format("d"), -1, 15);

var colorScale = d3.scaleLinear().domain(colorStops).range(colorValues);
var gB = svg.append("g");
gB.selectAll(".g").data(cellsQuiescent.concat(cellsAfterPH)).enter().append("circle").attr("class", "g")
	.attr("cx", function(d) { return xB(d[0]); })
	.attr("cy", function(d) { return yB(d[1]); })
	.attr("r", 2.3).style("fill", colorValues[0]);
gB.selectAll(".e").data(cellsExpression).enter().append("circle").attr("class", "e")
	.attr("cx", function(d) { return xB(d[0]); })
	.attr("cy", function(d) { return yB(d[1]); })
	.attr("r", 2.3).style("fill", function(d) { return colorScale(d[2]); });

var grad = svg.append("defs").append("linearGradient").attr("id", "ramp")
	.attr("x1", 0).attr("y1", 1).attr("x2", 0).attr("y2", 0);
grad.selectAll("stop").data(colorStops).enter().append("stop")
	.attr("offset", function(d) { return d / 0.03; })
	.attr("stop-color", function(d) { return colorScale(d); });
var legendY = d3.scaleLinear().domain([0, 0.03]).range([61, 16]);
svg.append("rect").attr("x", 895).attr("y", legendY(0.03)).attr("width", 10)
	.attr("height", legendY(0) - legendY(0.03)).style("fill", "url(#ramp)");
legendTicks.forEach(function(t, i) {
	label(907, [55, 41, 26][i], d3.format(".2f")(t), 14, {anchor: "start"});
});

label(555, 33, "B.", 24, {anchor: "start", bold: true});
label(751, 39, "Expression of predicted", 17.7);
label(753, 61, "regenerative feature", 17.7);
label(817, 397, "UMAP1", 19);
label(554, 192, "UMAP2", 19, {rotate: -90});

// ---- panel C
var xC = d3.scalePoint().domain(categories).range([1198, 1255]);
var yC = d3.scaleLinear().domain([-0.0435, 0.135]).range([356, 27]);
var jit = d3.scaleLinear().domain([-1, 1]).range([-57, 57]);

svg.append("g").attr("class", "axis").attr("transform", "translate(1164.5,0)")
	.call(d3.axisLeft(yC).tickValues(ticksScore).tickSize(3).tickFormat(d3.format(".2f")))
	.call(styleAxis);
svg.append("g").attr("class", "axis").attr("transform", "translate(0,356)")
	.call(d3.axisBottom(d3.scaleLinear().domain([1164.5, 1284]).range([1164.5, 1284])).tickValues(xC.domain().map(xC)).tickSize(4).tickFormat(""))
	.call(styleAxis);

function violin(cat, profile, fill, cloud, points, gaps) {
	var cx = xC(cat);
	var area = d3.area()
		.y(function(d) { return yC(d[0]); })
		.x0(function(d) { return cx - 26 * d[1]; })
		.x1(function(d) { return cx + 26 * d[1]; })
		.curve(d3.curveCatmullRom);
	svg.append("path").datum(profile).attr("d", area)
		.style("fill", fill).style("stroke", "#333").style("stroke-width", 2.2);
	var areaCloud = d3.area()
		.y(function(d) { return yC(d[0]); })
		.x0(function(d) { return cx + jit(d[1]); })
		.x1(function(d) { return cx + jit(d[2]); });
	svg.append("path").datum(cloud).attr("d", areaCloud).style("fill", "#060606");
	svg.selectAll(".pt" + categories.indexOf(cat)).data(points).enter().append("circle")
		.attr("class", "pt" + categories.indexOf(cat))
		.attr("cx", function(d) { return cx + jit(d[0]); })
		.attr("cy", function(d) { return yC(d[1]); })
		.attr("r", 1.05).style("fill", "#000");
	svg.selectAll(".gap" + categories.indexOf(cat)).data(gaps).enter().append("circle")
		.attr("class", "gap" + categories.indexOf(cat))
		.attr("cx", function(d) { return cx + jit(d[0]); })
		.attr("cy", function(d) { return yC(d[1]); })
		.attr("r", 1).style("fill", fill);
}
violin("quiescent", violinQuiescent, groupColors[0], cloudQuiescent, jitterQuiescent, gapsQuiescent);
violin("48 hours", violinAfterPH, groupColors[1], cloudAfterPH, jitterAfterPH, gapsAfterPH);

label(1072, 34, "C.", 24, {anchor: "start", bold: true});
label(1255, 23, "***", 18);
label(1109, 197, "expression score", 17.5, {rotate: -90});
label(1213, 372, "quiescent", 20.5, {rotate: -45, anchor: "end"});
label(1268, 374, "48 hours", 20.5, {rotate: -45, anchor: "end"});
label(1285, 396, "after PH", 20.5, {rotate: -45, anchor: "end"});
</script>
</body>
</html>
